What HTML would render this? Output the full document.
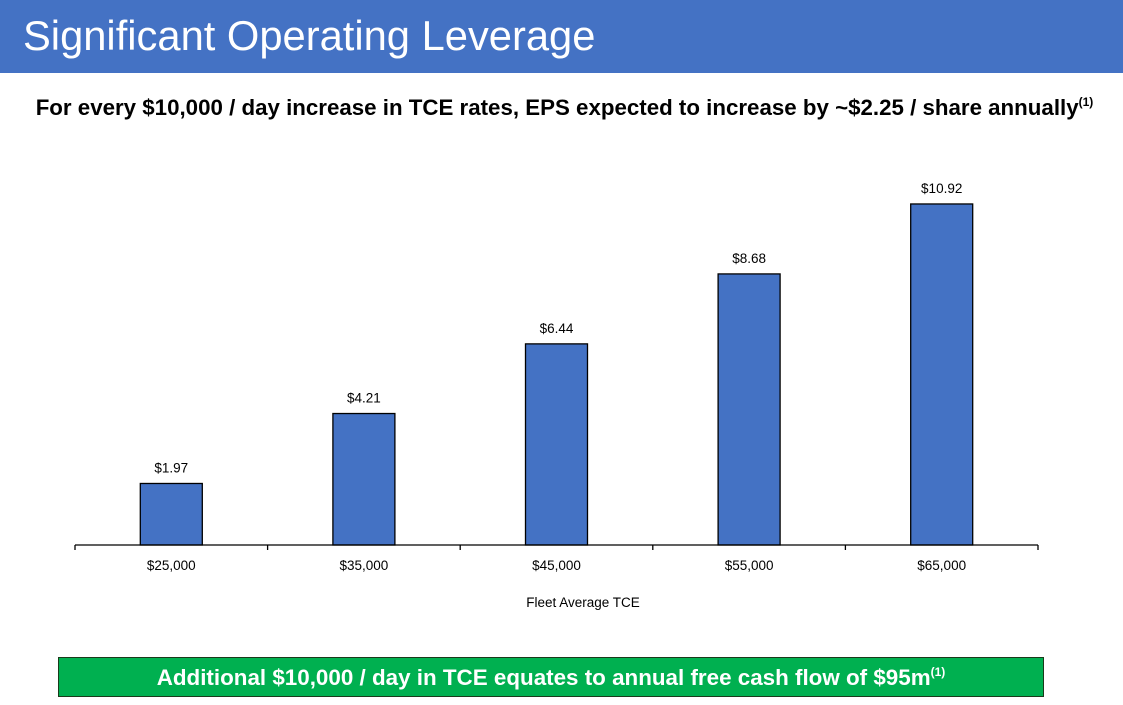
<!DOCTYPE html>
<html><head><meta charset="utf-8"><style>
body{margin:0;width:1123px;height:705px;background:#fff;overflow:hidden;font-family:"Liberation Sans",sans-serif;position:relative}
#hdr{position:absolute;left:0;top:0;width:1123px;height:73px;background:#4472C4}
#ttl{position:absolute;left:23px;top:12px;color:#fff;font-size:41.7px;white-space:nowrap}
#sub{position:absolute;left:0;width:1123px;top:95px;padding-left:6px;box-sizing:border-box;text-align:center;font-weight:bold;font-size:22.3px;color:#000;white-space:nowrap}
#box{position:absolute;left:58px;top:657px;width:984px;height:38px;background:#00B050;border:1px solid #1a3a1a;color:#fff;font-weight:bold;font-size:22.4px;text-align:center;line-height:40px;white-space:nowrap}
sup{font-size:12px;position:relative;top:-9px;vertical-align:baseline;line-height:0}
svg{position:absolute;left:0;top:0}
</style></head><body>
<div id="hdr"><div id="ttl">Significant Operating Leverage</div></div>
<div id="sub">For every $10,000 / day increase in TCE rates, EPS expected to increase by ~$2.25 / share annually<sup>(1)</sup></div>
<svg id="chart" width="1123" height="705"></svg>
<div id="box">Additional $10,000 / day in TCE equates to annual free cash flow of $95m<sup>(1)</sup></div>
<script>
const categories=["$25,000","$35,000","$45,000","$55,000","$65,000"];
const values=[1.97,4.21,6.44,8.68,10.92];
const valueLabels=["$1.97","$4.21","$6.44","$8.68","$10.92"];
const axisTitle="Fleet Average TCE";
const svg=document.getElementById('chart');
const NS="http://www.w3.org/2000/svg";
const x0=75,x1=1038,y0=545,ppu=31.23;
const bw=(x1-x0)/categories.length;
const xc=i=>x0+bw*(i+0.5);
const y=v=>y0-v*ppu;
function mk(t,a){const e=document.createElementNS(NS,t);for(const k in a)e.setAttribute(k,a[k]);svg.appendChild(e);return e;}
const font='"Liberation Sans",sans-serif';
values.forEach((v,i)=>{
 const r=mk('rect',{x:xc(i)-31,y:y(v),width:62,height:v*ppu,fill:'#4472C4',stroke:'#000','stroke-width':1.3});
 
 
 const t=mk('text',{x:xc(i),y:y(v)-11,'text-anchor':'middle','font-size':13.5,'font-family':font});
 t.textContent=valueLabels[i];
 
 
 const c=mk('text',{x:xc(i),y:570,'text-anchor':'middle','font-size':13.5,'font-family':font});
 c.textContent=categories[i];
 
 
});
const ax=mk('line',{x1:x0,x2:x1,y1:y0,y2:y0,stroke:'#000','stroke-width':1.3});


for(let i=0;i<=categories.length;i++){
 const tk=mk('line',{x1:x0+bw*i,x2:x0+bw*i,y1:y0,y2:y0+5,stroke:'#000','stroke-width':1.3});
 
 
}
const at=mk('text',{x:583,y:607,'text-anchor':'middle','font-size':13.5,'font-family':font});
at.textContent=axisTitle;


</script>
</body></html>
